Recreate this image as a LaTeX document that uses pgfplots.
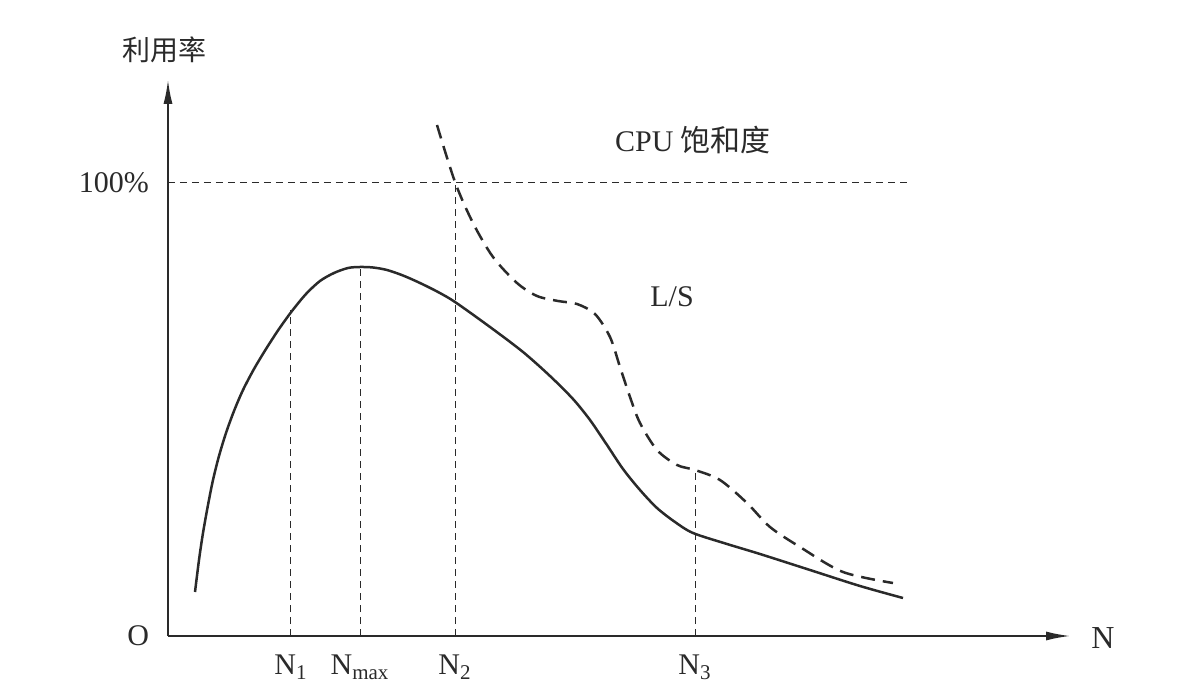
\documentclass[border=0pt]{standalone}
\usepackage{pgfplots}
\pgfplotsset{compat=1.18}
\usepackage{fontspec}
\setmainfont{Liberation Serif}
\newfontfamily\cjk{Noto Sans CJK SC}
\usetikzlibrary{arrows.meta}
\definecolor{ink}{HTML}{2A2A2A}
\begin{document}
\begin{tikzpicture}
\begin{axis}[
  scale only axis, width=451pt, height=278pt,
  xmin=0, xmax=902, ymin=0, ymax=556,
  clip=false,
  axis lines=left,
  axis line style={ink, line width=0.8pt, -{Latex[length=12pt,width=4.5pt]}},
  xtick={123,192,287,527},
  xticklabels={N\textsubscript{1}, N\textsubscript{max}, N\textsubscript{2}, N\textsubscript{3}},
  ytick={0,453},
  yticklabels={O,100\%},
  major tick length=0pt,
  tick label style={font=\fontsize{15}{15}\selectfont, text=ink},
  xticklabel style={yshift=-6pt},
  yticklabel style={xshift=-6pt},
]
% 100% reference line and drop lines
\addplot[ink, line width=0.5pt, dash pattern=on 3.5pt off 2.5pt] coordinates {(0,453) (742,453)};
\addplot[ink, line width=0.5pt, dash pattern=on 3.5pt off 2.5pt] coordinates {(123,0) (123,326)};
\addplot[ink, line width=0.5pt, dash pattern=on 3.5pt off 2.5pt] coordinates {(192,0) (192,368)};
\addplot[ink, line width=0.5pt, dash pattern=on 3.5pt off 2.5pt] coordinates {(287,0) (287,453)};
\addplot[ink, line width=0.5pt, dash pattern=on 3.5pt off 2.5pt] coordinates {(527,0) (527,166)};
% L/S solid curve
\addplot[ink, line width=1.25pt, smooth] coordinates {
(27,44) (31,76) (35,103) (40,131) (45,156) (51,180) (58,203) (66,225)
(75,246) (86,267) (98,287) (111,307) (124,325) (138,342) (152,355)
(166,363) (180,368) (192,369) (205,368.5) (219,366) (235,360.5) (252,353)
(270,344) (287,334) (322,309) (355,284) (382,260) (405,237) (422,216)
(439,191) (455,167) (472,146) (489,128) (507,114) (525,103) (559,92)
(592,82) (642,66) (692,50) (735,38)};
% CPU saturation dashed curve
\addplot[ink, line width=1.25pt, smooth, dash pattern=on 7pt off 4pt] coordinates {
(269,511) (287,454) (305,413) (325,379) (349,353) (369,340) (390,335)
(409,332) (427,322) (442,299) (452,269) (462,239) (472,213) (489,186)
(509,171) (527,166) (552,156) (579,133) (602,109) (632,89) (675,64) (725,53)};
% labels
\node[text=ink, font=\fontsize{15}{15}\selectfont] at (axis cs:525,496) {CPU {\cjk 饱和度}};
\node[text=ink, font=\fontsize{15}{15}\selectfont] at (axis cs:504,339) {L/S};
\node[text=ink, font=\cjk\fontsize{14}{14}\selectfont] at (axis cs:-3,586) {利用率};
\node[text=ink, font=\fontsize{16}{16}\selectfont] at (axis cs:935,-2) {N};
\path (axis cs:-168,-60) rectangle (axis cs:1031,636);
\end{axis}
\end{tikzpicture}
\end{document}
